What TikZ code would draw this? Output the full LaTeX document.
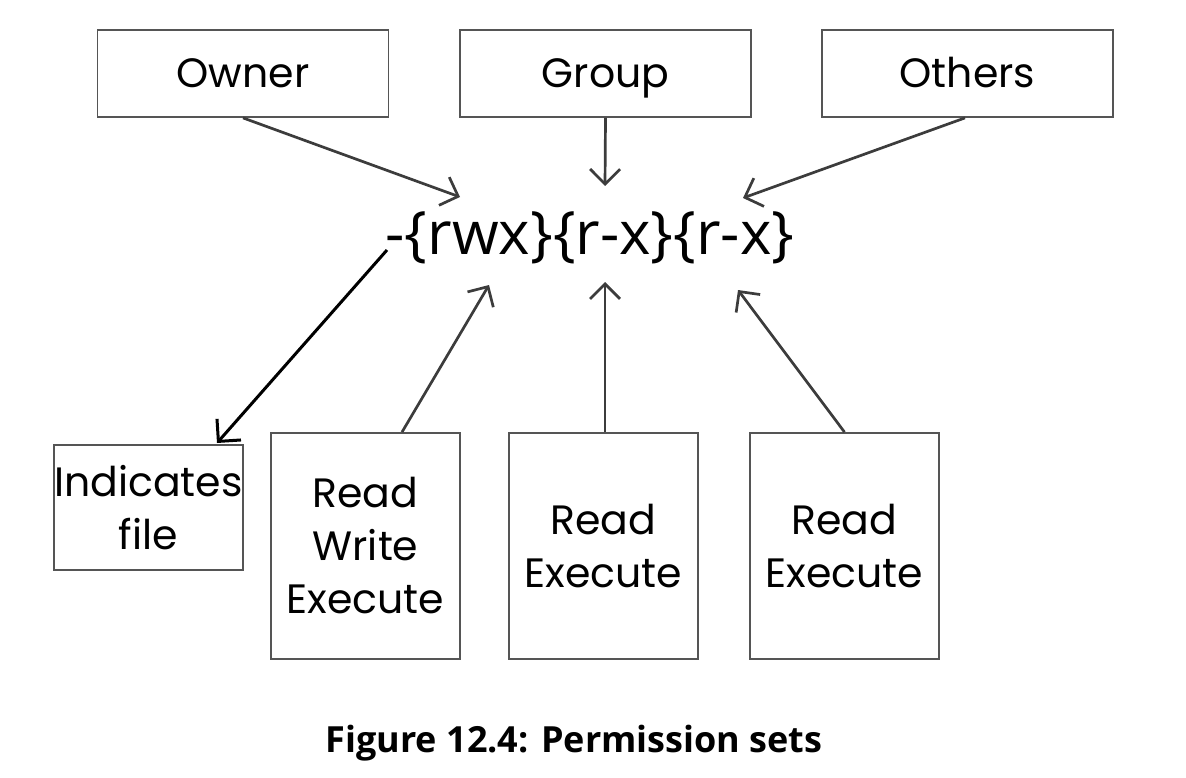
\documentclass[tikz,border=0pt]{standalone}
\usepackage{fontspec}
\setmainfont{Open Sans}
\newfontfamily\labelfont{Poppins}
\usetikzlibrary{arrows.meta}
\definecolor{boxline}{HTML}{555555}
\definecolor{arrowcol}{HTML}{3C3C3C}
\tikzset{
  lbl/.style={draw=boxline, line width=1.8pt, inner sep=0pt, align=center,
    font=\labelfont\fontsize{41}{53}\selectfont, text=black},
  topbox/.style={lbl, minimum width=291pt, minimum height=87pt, text height=29pt, text depth=0pt},
  botbox/.style={lbl, minimum width=189pt, minimum height=226pt},
  conn/.style={draw=arrowcol, line width=2.7pt, -{Straight Barb[length=15pt,width=30pt]}},
  fileconn/.style={draw=black, line width=3pt, -{Straight Barb[length=16pt,width=32pt]}}
}
\begin{document}
\begin{tikzpicture}[x=1pt,y=-1pt]
\useasboundingbox (0,0) rectangle (1186,778);
% top boxes
\node[topbox] (owner)  at (243,73.5) {Owner};
\node[topbox] (group)  at (605.5,73.5) {Group};
\node[topbox] (others) at (967.5,73.5) {Others};
% central text
\node[inner sep=0pt, font=\fontsize{60}{70}\selectfont] (perm) at (590,238) {-\{rwx\}\{r-x\}\{r-x\}};
% bottom boxes
\node[lbl, minimum width=189pt, minimum height=125pt] (file) at (148.5,507.5) {Indicates\\file};
\node[botbox] (rwe) at (365.5,546) {Read\\Write\\Execute};
\node[botbox] (rx1) at (603.5,546) {Read\\Execute};
\node[botbox] (rx2) at (844.5,546) {Read\\Execute};
% arrow end points
\coordinate (ownertip)  at (460,197);
\coordinate (grouptip)  at (605,186);
\coordinate (otherstip) at (743,198);
\coordinate (rwetip)    at (489,285);
\coordinate (rx1tip)    at (605,282);
\coordinate (rx2tip)    at (738,290);
\coordinate (dash)      at (387,250);
\coordinate (filetip)   at (217,443);
% connectors
\draw[conn] (owner.south) -- (ownertip);
\draw[conn] (group.south) -- (grouptip);
\draw[conn] (others.south -| 965,0) -- (otherstip);
\draw[conn] (rwe.north -| 402,0) -- (rwetip);
\draw[conn] (rx1.north -| 605,0) -- (rx1tip);
\draw[conn] (rx2.north) -- (rx2tip);
\draw[fileconn] (dash) -- (filetip);
% caption
\node[font=\bfseries\fontsize{36}{40}\selectfont, anchor=base] (caption) at (574,752) {Figure 12.4: Permission sets};
\end{tikzpicture}
\end{document}
